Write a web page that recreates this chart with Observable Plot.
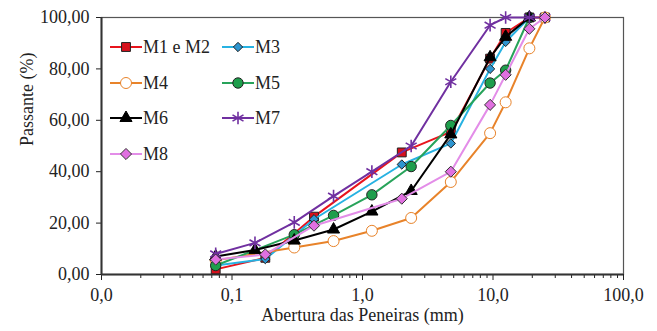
<!DOCTYPE html>
<html>
<head>
<meta charset="utf-8">
<script src="https://cdn.jsdelivr.net/npm/d3@7"></script>
<script src="https://cdn.jsdelivr.net/npm/@observablehq/plot@0.6"></script>
<style>
  html, body { margin: 0; padding: 0; background: white; }
  #wrap { position: relative; width: 657px; height: 331px; }
  #legend { position: absolute; left: 0; top: 0; pointer-events: none; }
</style>
</head>
<body>
<div id="wrap"></div>
<script>
// ---- data ----
const seriesNames = ["M1 e M2", "M3", "M4", "M5", "M6", "M7", "M8"];

const m1Sizes  = [0.075, 0.18, 0.425, 2.0, 4.75, 9.5, 12.5, 19, 25];
const m1Values = [2, 6.5, 22.5, 47.5, 55.5, 84, 94, 100, 100];

const m3Sizes  = [0.075, 0.18, 0.425, 2.0, 4.75, 9.5, 12.5, 19];
const m3Values = [3.5, 6, 21.5, 42.8, 51, 80, 90.5, 100];

const m4Sizes  = [0.075, 0.3, 0.6, 1.18, 2.36, 4.75, 9.5, 12.5, 19, 25];
const m4Values = [5.5, 10.5, 13, 17, 22, 36, 55, 67, 88, 100];

const m5Sizes  = [0.075, 0.3, 0.6, 1.18, 2.36, 4.75, 9.5, 12.5, 19];
const m5Values = [3.5, 15.5, 23, 31, 42, 58, 74.5, 79.5, 100];

const m6Sizes  = [0.075, 0.15, 0.3, 0.6, 1.18, 2.36, 4.75, 9.5, 12.5, 19];
const m6Values = [7, 9.5, 13.2, 17.5, 24.5, 32.5, 54.5, 84.5, 92.5, 100];

const m7Sizes  = [0.075, 0.15, 0.3, 0.6, 1.18, 2.36, 4.75, 9.5, 12.5, 19, 25];
const m7Values = [8, 12.3, 20.3, 30.5, 40, 50, 75, 97, 100, 100, 100];

const m8Sizes  = [0.075, 0.18, 0.425, 2.0, 4.75, 9.5, 12.5, 19, 25];
const m8Values = [5.8, 7.8, 19, 29.5, 40, 66, 77.7, 95.6, 100];

const xTicks = [0.01, 0.1, 1, 10, 100];
const xTickLabels = ["0,0", "0,1", "1,0", "10,0", "100,0"];
const yTicks = [0, 20, 40, 60, 80, 100];
const yTickLabels = ["0,00", "20,00", "40,00", "60,00", "80,00", "100,00"];

// ---- styles ----
const lineColors   = ["#e8141c", "#27b2e2", "#e8832a", "#27a35a", "#000000", "#7030a0", "#e38de8"];
const markerFills  = ["#d8101c", "#2e95d0", "#ffffff", "#1e9e4c", "#000000", "none", "#e070e0"];
const markerStroke = ["#222", "#222", "#e8832a", "#222", "#000", "#7030a0", "#333"];
const markerSymbol = ["square", "diamond2", "circle", "circle", "triangle", "asterisk", "diamond2"];
const markerR      = [5, 4.2, 5.5, 5.2, 4.5, 6, 5];

const sizesList  = [m1Sizes, m3Sizes, m4Sizes, m5Sizes, m6Sizes, m7Sizes, m8Sizes];
const valuesList = [m1Values, m3Values, m4Values, m5Values, m6Values, m7Values, m8Values];

const tables = seriesNames.map((name, i) =>
  sizesList[i].map((s, j) => ({series: name, size: s, value: valuesList[i][j]})));

const minorTicks = [];
for (let e = -2; e < 2; e++) for (let k = 2; k <= 9; k++) minorTicks.push(k * Math.pow(10, e));

const font = "'Liberation Serif', 'Times New Roman', serif";

const marks = [
  Plot.frame({stroke: "#555", strokeWidth: 1.2}),
  Plot.axisY({ticks: yTicks, tickFormat: (d) => yTickLabels[yTicks.indexOf(d)], tickSize: 5, tickPadding: 7, label: null, fontSize: 18}),
  Plot.axisX({ticks: minorTicks, tickSize: 4, tickFormat: () => "", label: null}),
  Plot.axisX({ticks: xTicks, tickSize: 6, tickPadding: 8, tickFormat: d => xTickLabels[xTicks.indexOf(d)], label: null, fontSize: 18}),
  Plot.ruleX([0.01], {stroke: "#333", strokeWidth: 2}),
  Plot.ruleY([0], {stroke: "#333", strokeWidth: 2}),
  Plot.text(["Passante (%)"], {frameAnchor: "left", dx: -74, rotate: -90, fontSize: 18, fill: "#222"}),
  Plot.text(["Abertura das Peneiras (mm)"], {frameAnchor: "bottom", dy: 46, fontSize: 18, fill: "#222"})
];

tables.forEach((t, i) => {
  marks.push(Plot.line(t, {x: "size", y: "value", stroke: lineColors[i], strokeWidth: 2}));
  marks.push(Plot.dot(t, {x: "size", y: "value", symbol: () => markerSymbol[i], r: markerR[i],
    fill: markerFills[i], stroke: markerStroke[i], strokeWidth: markerSymbol[i] === "asterisk" ? 1.6 : 1}));
});

const chart = Plot.plot({
  width: 657, height: 331,
  marginLeft: 101, marginRight: 34, marginTop: 17, marginBottom: 57,
  style: {fontFamily: font, fontSize: "18px", color: "#222", background: "white"},
  x: {type: "log", domain: [0.01, 100]},
  y: {domain: [0, 100]},
  marks
});
document.getElementById("wrap").appendChild(chart);

// ---- legend overlay ----
const legendPos = [[110, 47], [222, 47], [110, 83], [222, 83], [110, 118], [222, 118], [110, 154]];
const symMap = {square: d3.symbolSquare, diamond2: d3.symbolDiamond2, circle: d3.symbolCircle,
  triangle: d3.symbolTriangle, asterisk: d3.symbolAsterisk};
const lg = d3.select("#wrap").append("svg").attr("id", "legend").attr("width", 657).attr("height", 331);
seriesNames.forEach((name, i) => {
  const [x, y] = legendPos[i];
  const g = lg.append("g").attr("transform", `translate(${x},${y})`);
  g.append("line").attr("x1", 0).attr("x2", 32).attr("y1", 0).attr("y2", 0)
    .attr("stroke", lineColors[i]).attr("stroke-width", 2);
  g.append("path").attr("transform", "translate(16,0)")
    .attr("d", d3.symbol(symMap[markerSymbol[i]], Math.PI * markerR[i] * markerR[i])())
    .attr("fill", markerFills[i]).attr("stroke", markerStroke[i])
    .attr("stroke-width", markerSymbol[i] === "asterisk" ? 1.6 : 1);
  g.append("text").attr("x", 33).attr("y", 0).attr("dy", "0.35em")
    .attr("font-family", font).attr("font-size", 18).attr("fill", "#222").text(name);
});
</script>
</body>
</html>
